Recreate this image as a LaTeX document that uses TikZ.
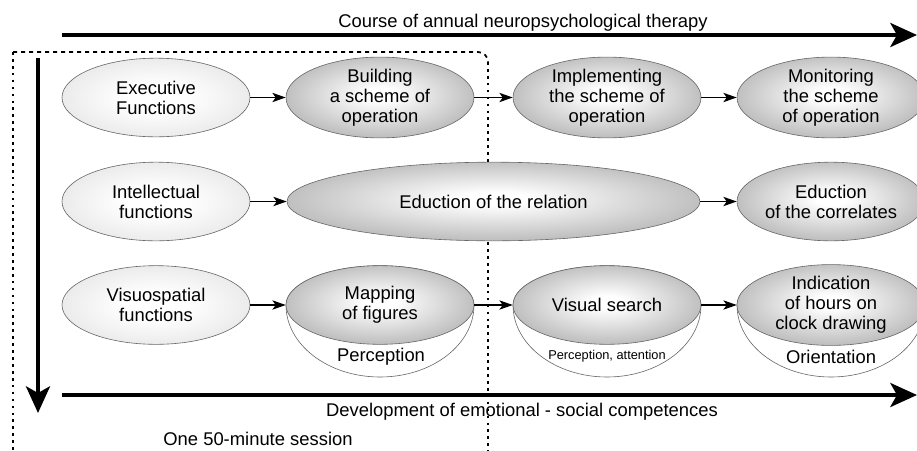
\documentclass[tikz,border=0pt]{standalone}
\usepackage{fontspec}
\setmainfont{Liberation Sans}
\usetikzlibrary{shapes.geometric,arrows.meta}
\definecolor{lightedge}{gray}{0.74}
\definecolor{lightmid}{gray}{0.90}
\definecolor{darkedge}{gray}{0.50}
\definecolor{darkmid}{gray}{0.74}
\definecolor{bowledge}{gray}{0.88}
\definecolor{ellline}{gray}{0.40}
\pgfdeclareradialshading{lightsh}{\pgfpoint{0bp}{0bp}}{color(0bp)=(white); color(8bp)=(white); color(30bp)=(lightmid); color(50bp)=(lightedge)}
\pgfdeclareradialshading{darksh}{\pgfpoint{0bp}{2bp}}{color(0bp)=(white); color(4bp)=(white); color(26bp)=(darkmid); color(50bp)=(darkedge)}
\pgfdeclareradialshading{bowlsh}{\pgfpoint{0bp}{10bp}}{color(0bp)=(white); color(32bp)=(white); color(60bp)=(bowledge)}
\begin{document}
\begin{tikzpicture}[x=0.75pt,y=-0.75pt,
  mainfont/.style={font=\fontsize{13.8}{15}\selectfont},
  lightell/.style={ellipse, draw=ellline, line width=0.45pt, shade, shading=lightsh,
    minimum width=141pt, minimum height=59pt, inner sep=0pt, align=center, mainfont},
  darkell/.style={lightell, shading=darksh},
  bowlfill/.style={draw=ellline, line width=0.45pt, shade, shading=bowlsh},
  smallarrow/.style={line width=1pt, -{Stealth[length=10pt, width=7pt, inset=2.5pt]}},
  bigarrow/.style={line width=3pt, -{Stealth[length=20pt, width=18pt, inset=5pt]}},
  framedash/.style={line width=1.3pt, dash pattern=on 3pt off 3pt},
  framedot/.style={line width=1.3pt, dash pattern=on 2pt off 3.2pt},
  lbl/.style={inner sep=0pt, mainfont}]
\useasboundingbox (0,0) rectangle (917,450);
\clip (0,0) rectangle (917,450);

% dotted frame of one session
\coordinate (fa) at (13,52);
\coordinate (fb) at (478,52);
\coordinate (fc) at (488,62);
\coordinate (fd) at (488,452);
\coordinate (fe) at (13,452);
\draw[framedash] (fa) -- (fb) to[out=0,in=90] (fc);
\draw[framedot] (fc) -- (fd);
\draw[framedot] (fa) -- (fe);

% main axes
\coordinate (ta) at (62,35);
\coordinate (tb) at (917,35);
\coordinate (ba) at (62,395);
\coordinate (bb) at (917,395);
\coordinate (va) at (38,58);
\coordinate (vb) at (38,413);
\draw[bigarrow] (ta) -- (tb);
\draw[bigarrow] (ba) -- (bb);
\draw[bigarrow] (va) -- (vb);

\node[lbl] (toplabel) at (523,23) {Course of annual neuropsychological therapy};
\node[lbl] (botlabel) at (522,412) {Development of emotional - social competences};
\node[lbl] (session) at (258,439) {One 50-minute session};

% row 1
\node[lightell] (ef) at (156,97.5) {Executive\\Functions};
\node[darkell] (bs) at (380,97.5) {Building\\a scheme of\\operation};
\node[darkell] (is) at (607,97.5) {Implementing\\the scheme of\\operation};
\node[darkell] (ms) at (831,97.5) {Monitoring\\the scheme\\of operation};

% row 2
\node[lightell] (if) at (156,201.5) {Intellectual\\functions};
\node[darkell, minimum width=309.75pt] (er) at (493.5,201.5) {Eduction of the relation};
\node[darkell] (ec) at (831,201.5) {Eduction\\of the correlates};

% row 3 bowls
\foreach \cx in {380,607,831}{
  \path[bowlfill] (\cx,305) ++(-70.5pt,0pt)
     arc[start angle=180, end angle=0, x radius=70.5pt, y radius=29.5pt]
     arc[start angle=0, end angle=-180, x radius=70.5pt, y radius=54pt] -- cycle;
}
\node[lightell] (vf) at (156,305) {Visuospatial\\functions};
\node[darkell] (mf) at (380,305) {Mapping\\of figures};
\node[darkell] (vs) at (607,305) {Visual search};
\node[darkell] (ih) at (831,305) {Indication\\of hours on\\clock drawing};
\node[lbl] (pe) at (381,357) {Perception};
\node[lbl, font=\fontsize{9.6}{11}\selectfont] (pa) at (607,356) {Perception, attention};
\node[lbl] (or) at (831,357) {Orientation};

% connectors
\draw[smallarrow] (ef) -- (bs);
\draw[smallarrow] (bs) -- (is);
\draw[smallarrow] (is) -- (ms);
\draw[smallarrow] (if) -- (er);
\draw[smallarrow] (er) -- (ec);
\draw[smallarrow] (vf) -- (mf);
\draw[smallarrow] (mf) -- (vs);
\draw[smallarrow] (vs) -- (ih);
\end{tikzpicture}
\end{document}
